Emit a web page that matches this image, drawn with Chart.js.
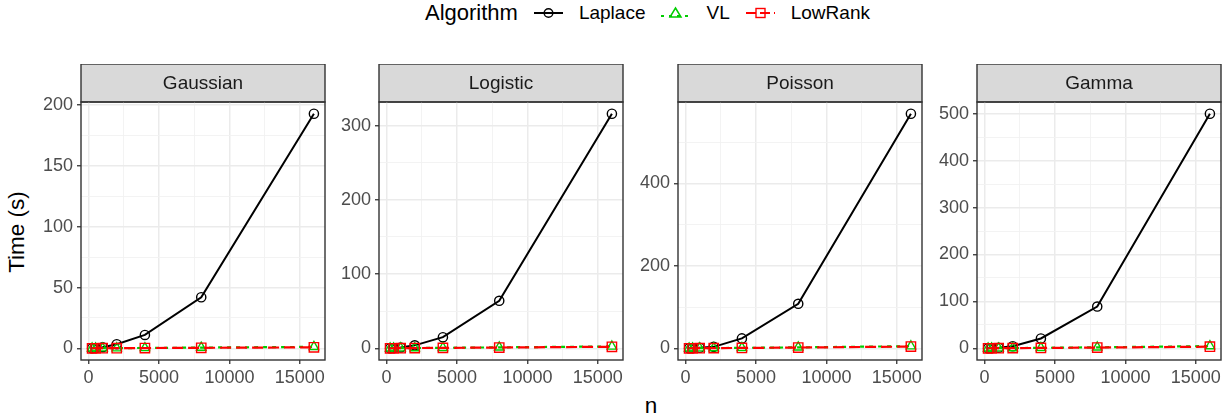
<!DOCTYPE html>
<html>
<head>
<meta charset="utf-8">
<script src="https://cdn.jsdelivr.net/npm/chart.js@4.4.1/dist/chart.umd.min.js"></script>
<style>
  body { margin: 0; background: #fff; font-family: "Liberation Sans", Arial, sans-serif; }
  #wrap { position: relative; width: 1232px; height: 419px; overflow: hidden; }
  canvas.panel { position: absolute; }
  #legend { position: absolute; top: 0; left: 425px; display: flex; align-items: center; height: 25px; white-space: nowrap; }
  #legend .title { font-size: 22px; color: #000; margin-right: 16px; }
  #legend .item { display: flex; align-items: center; margin-right: 16px; font-size: 19px; color: #000; }
  #legend svg { margin-right: 16px; }
  #ylab { position: absolute; left: 17px; top: 232px; transform: translate(-50%, -50%) rotate(-90deg); font-size: 22.5px; white-space: nowrap; }
  #xlab { position: absolute; left: 651px; top: 406px; transform: translate(-50%, -50%); font-size: 22.5px; }
</style>
</head>
<body>
<div id="wrap">
  <div id="legend">
    <span class="title">Algorithm</span>
    <span class="item"><svg width="29" height="16"><line x1="0" y1="8" x2="29" y2="8" stroke="#000" stroke-width="2"/><circle cx="14.5" cy="8" r="4.3" fill="none" stroke="#000" stroke-width="1.4"/></svg>Laplace</span>
    <span class="item"><svg width="29" height="16"><line x1="0" y1="11" x2="29" y2="11" stroke="#00CD00" stroke-width="2" stroke-dasharray="3,5"/><polygon points="14.5,3 20,12 9,12" fill="none" stroke="#00CD00" stroke-width="1.5"/></svg>VL</span>
    <span class="item"><svg width="29" height="16"><line x1="0" y1="8" x2="29" y2="8" stroke="#FF0000" stroke-width="2" stroke-dasharray="10,4"/><rect x="10" y="3.5" width="9" height="9" fill="none" stroke="#FF0000" stroke-width="1.4"/></svg>LowRank</span>
  </div>
  <div id="ylab">Time (s)</div>
  <div id="xlab">n</div>
</div>
<script>
// sample sizes
const nVals = [250, 500, 1000, 2000, 4000, 8000, 16000];

// panels (family)
const families = ['Gaussian', 'Logistic', 'Poisson', 'Gamma'];

// time in seconds
const laplaceGaussian = [0.1, 0.3, 0.9, 3.4, 11, 42, 193];
const laplaceLogistic = [0.15, 0.4, 1.2, 4, 15, 64, 316];
const laplacePoisson = [0.2, 0.5, 1.4, 3.5, 24, 108, 569];
const laplaceGamma = [0.2, 0.5, 1.3, 4.5, 21, 89, 500];

const vlGaussian = [0.05, 0.08, 0.1, 0.15, 0.3, 0.6, 1.2];
const vlLogistic = [0.1, 0.15, 0.25, 0.4, 0.7, 1.3, 2.6];
const vlPoisson = [0.15, 0.2, 0.35, 0.6, 1.1, 2.3, 5.2];
const vlGamma = [0.15, 0.2, 0.3, 0.55, 1.0, 2.1, 4.8];

const lowRankGaussian = [0.03, 0.05, 0.08, 0.12, 0.2, 0.4, 0.8];
const lowRankLogistic = [0.08, 0.12, 0.2, 0.35, 0.6, 1.1, 2.1];
const lowRankPoisson = [0.1, 0.15, 0.3, 0.5, 0.9, 1.9, 4.2];
const lowRankGamma = [0.1, 0.15, 0.25, 0.45, 0.8, 1.6, 3.5];

// y tick label spacing per panel (minor grid at half of it)
const yMajorStep = [50, 100, 200, 100];
const xMajorStep = 5000;

const laplaceAll = [laplaceGaussian, laplaceLogistic, laplacePoisson, laplaceGamma];
const vlAll = [vlGaussian, vlLogistic, vlPoisson, vlGamma];
const lowRankAll = [lowRankGaussian, lowRankLogistic, lowRankPoisson, lowRankGamma];

// panel placement (plot area edges)
const panelLeft = [81, 379, 678, 977];
const panelWidth = 244;
const stripTop = 64, stripH = 38, plotBottom = 360;
const yAxisW = 70, xAxisH = 30, padRight = 14;

const FONT = '"Liberation Sans", Arial, sans-serif';

const stripPlugin = {
  id: 'strip',
  beforeDraw(chart) {
    const a = chart.chartArea, ctx = chart.ctx;
    ctx.save();
    ctx.fillStyle = '#D9D9D9';
    ctx.fillRect(a.left, a.top - stripH, a.right - a.left, stripH);
    ctx.strokeStyle = '#333333';
    ctx.lineWidth = 1.4;
    ctx.strokeRect(a.left, a.top - stripH, a.right - a.left, stripH);
    ctx.fillStyle = '#1A1A1A';
    ctx.font = '19px ' + FONT;
    ctx.textAlign = 'center';
    ctx.textBaseline = 'middle';
    ctx.fillText(chart.options.plugins.strip.label, (a.left + a.right) / 2, a.top - stripH / 2 + 1);
    ctx.restore();
  },
  afterDraw(chart) {
    const a = chart.chartArea, ctx = chart.ctx;
    ctx.save();
    ctx.strokeStyle = '#333333';
    ctx.lineWidth = 1.4;
    ctx.strokeRect(a.left, a.top, a.right - a.left, a.bottom - a.top);
    ctx.restore();
  }
};

function majorOrMinor(step) {
  return v => Math.abs(v / step - Math.round(v / step)) < 1e-6;
}

// grid positions every half step inside the axis range
function halfStepTicks(lo, hi, step) {
  const half = step / 2, out = [];
  for (let k = Math.ceil(lo / half); k * half <= hi; k++) out.push({ value: k * half });
  return out;
}

families.forEach((fam, i) => {
  const cv = document.createElement('canvas');
  cv.className = 'panel';
  const left = panelLeft[i] - yAxisW;
  const w = yAxisW + panelWidth + padRight;
  const h = plotBottom + xAxisH - stripTop;
  cv.width = w; cv.height = h;
  cv.style.left = left + 'px';
  cv.style.top = stripTop + 'px';
  cv.style.width = w + 'px';
  cv.style.height = h + 'px';
  document.getElementById('wrap').appendChild(cv);

  // ggplot-style 5% expansion
  const allY = laplaceAll[i].concat(vlAll[i], lowRankAll[i]);
  const yLo = Math.min(...allY), yHi = Math.max(...allY);
  const yPad = (yHi - yLo) * 0.05;
  const xLo = Math.min(...nVals), xHi = Math.max(...nVals);
  const xPad = (xHi - xLo) * 0.05;

  const yStep = yMajorStep[i];
  const isYMajor = majorOrMinor(yStep);
  const isXMajor = majorOrMinor(xMajorStep);

  const mk = arr => arr.map((v, k) => ({ x: nVals[k], y: v }));

  new Chart(cv.getContext('2d'), {
    type: 'line',
    data: {
      datasets: [
        {
          label: 'Laplace', data: mk(laplaceAll[i]), order: 3,
          borderColor: '#000000', borderWidth: 2,
          pointStyle: 'circle', pointRadius: 4.6, pointBorderWidth: 1.4,
          pointBorderColor: '#000000', pointBackgroundColor: 'rgba(0,0,0,0)'
        },
        {
          label: 'VL', data: mk(vlAll[i]), order: 2,
          borderColor: '#00CD00', borderWidth: 2.2, borderDash: [4, 5],
          pointStyle: 'triangle', pointRadius: 5.4, pointBorderWidth: 1.4,
          pointBorderColor: '#00CD00', pointBackgroundColor: 'rgba(0,0,0,0)'
        },
        {
          label: 'LowRank', data: mk(lowRankAll[i]), order: 1,
          borderColor: '#FF0000', borderWidth: 2.2, borderDash: [11, 5],
          pointStyle: 'rect', pointRadius: 6.6, pointBorderWidth: 1.4,
          pointBorderColor: '#FF0000', pointBackgroundColor: 'rgba(0,0,0,0)'
        }
      ]
    },
    options: {
      responsive: false,
      animation: false,
      devicePixelRatio: 1,
      events: [],
      layout: { padding: { top: stripH, right: padRight, left: 0, bottom: 0 } },
      plugins: {
        legend: { display: false },
        tooltip: { enabled: false },
        strip: { label: fam }
      },
      scales: {
        x: {
          type: 'linear',
          min: xLo - xPad,
          max: xHi + xPad,
          afterBuildTicks: s => { s.ticks = halfStepTicks(s.min, s.max, xMajorStep); },
          afterFit: s => { s.height = xAxisH; },
          border: { display: false },
          grid: {
            color: c => isXMajor(c.tick.value) ? '#EBEBEB' : '#F2F2F2',
            lineWidth: c => isXMajor(c.tick.value) ? 1.5 : 0.9,
            tickColor: c => isXMajor(c.tick.value) ? '#333333' : 'rgba(0,0,0,0)',
            tickLength: 4,
            tickWidth: 1.3
          },
          ticks: {
            maxRotation: 0,
            autoSkip: false,
            padding: 3,
            color: '#4D4D4D',
            font: { family: FONT, size: 18 },
            callback: v => isXMajor(v) ? String(v) : ''
          }
        },
        y: {
          min: yLo - yPad,
          max: yHi + yPad,
          afterBuildTicks: s => { s.ticks = halfStepTicks(s.min, s.max, yStep); },
          afterFit: s => { s.width = yAxisW; },
          border: { display: false },
          grid: {
            color: c => isYMajor(c.tick.value) ? '#EBEBEB' : '#F2F2F2',
            lineWidth: c => isYMajor(c.tick.value) ? 1.5 : 0.9,
            tickColor: c => isYMajor(c.tick.value) ? '#333333' : 'rgba(0,0,0,0)',
            tickLength: 4,
            tickWidth: 1.3
          },
          ticks: {
            autoSkip: false,
            padding: 4,
            color: '#4D4D4D',
            font: { family: FONT, size: 18 },
            callback: v => isYMajor(v) ? String(v) : ''
          }
        }
      }
    },
    plugins: [stripPlugin]
  });
});
</script>
</body>
</html>
